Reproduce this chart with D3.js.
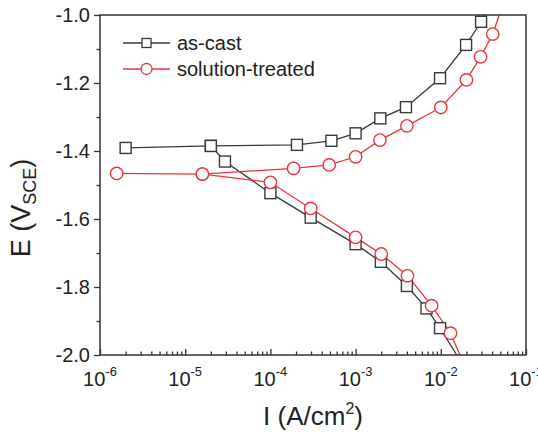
<!DOCTYPE html>
<html><head><meta charset="utf-8">
<script src="https://cdn.jsdelivr.net/npm/d3@7/dist/d3.min.js"></script>
<style>body{margin:0;background:#fff}svg{display:block}text{font-family:"Liberation Sans",Arial,sans-serif;fill:#222}</style>
</head><body><svg id="c" width="538" height="438"></svg>
<script>
// ---- data ----
const xTickExps = [-6, -5, -4, -3, -2, -1];
const yTicks = [-2.0, -1.8, -1.6, -1.4, -1.2, -1.0];
const seriesNames = ["as-cast", "solution-treated"];

const asCastAnodicI = [2.0e-6, 2.0e-5, 2.05e-4, 5.2e-4, 1.0e-3, 1.95e-3, 3.9e-3, 9.8e-3, 1.98e-2, 2.97e-2];
const asCastAnodicE = [-1.391, -1.385, -1.382, -1.370, -1.348, -1.304, -1.271, -1.186, -1.088, -1.020];
const asCastAnodicTail = [3.2e-2, -1.0];
const asCastCathodicI = [2.0e-5, 2.93e-5, 1.0e-4, 2.97e-4, 1.0e-3, 1.98e-3, 4.0e-3, 6.8e-3, 9.8e-3];
const asCastCathodicE = [-1.385, -1.431, -1.524, -1.596, -1.674, -1.726, -1.797, -1.863, -1.921];
const asCastCathodicTail = [1.54e-2, -2.0];

const solAnodicI = [1.57e-6, 1.59e-5, 1.87e-4, 4.9e-4, 1.0e-3, 1.93e-3, 4.0e-3, 1.0e-2, 2.0e-2, 2.93e-2, 4.07e-2];
const solAnodicE = [-1.466, -1.468, -1.451, -1.441, -1.417, -1.368, -1.326, -1.272, -1.191, -1.123, -1.056];
const solAnodicTail = [4.86e-2, -1.0];
const solCathodicI = [1.59e-5, 1.0e-4, 2.97e-4, 1.0e-3, 2.0e-3, 4.06e-3, 7.8e-3, 1.30e-2];
const solCathodicE = [-1.468, -1.492, -1.569, -1.654, -1.703, -1.767, -1.855, -1.936];
const solCathodicTail = [1.68e-2, -2.0];

// ---- layout ----
const L = 100, R = 526, T = 15, B = 355;
const colBlack = "#3a3a3a", colRed = "#e8353b";
const svg = d3.select("#c");
const x = d3.scaleLog().domain([1e-6, 1e-1]).range([L, R]);
const y = d3.scaleLinear().domain([-2.0, -1.0]).range([B, T]);

svg.append("clipPath").attr("id", "clip").append("rect")
  .attr("x", L).attr("y", T).attr("width", R - L).attr("height", B - T);

const zip = (I, E, tail) => { const a = I.map((v, i) => [v, E[i]]); if (tail) a.push(tail); return a; };
const line = d3.line().x(d => x(d[0])).y(d => y(d[1]));

const series = [
  { color: colBlack, shape: "square", branches: [[asCastAnodicI, asCastAnodicE, asCastAnodicTail], [asCastCathodicI, asCastCathodicE, asCastCathodicTail]] },
  { color: colRed, shape: "circle", branches: [[solAnodicI, solAnodicE, solAnodicTail], [solCathodicI, solCathodicE, solCathodicTail]] }
];

const plot = svg.append("g").attr("clip-path", "url(#clip)");
series.forEach(s => {
  s.branches.forEach(b => {
    plot.append("path").datum(zip(b[0], b[1], b[2]))
      .attr("d", line).attr("fill", "none").attr("stroke", s.color).attr("stroke-width", 1.3);
  });
});
series.forEach(s => {
  s.branches.forEach(b => {
    const pts = zip(b[0], b[1]);
    if (s.shape === "square") {
      plot.selectAll(null).data(pts).enter().append("rect")
        .attr("x", d => x(d[0]) - 5.5).attr("y", d => y(d[1]) - 5.5)
        .attr("width", 11).attr("height", 11)
        .attr("fill", "#fff").attr("stroke", s.color).attr("stroke-width", 1.4);
    } else {
      plot.selectAll(null).data(pts).enter().append("circle")
        .attr("cx", d => x(d[0])).attr("cy", d => y(d[1])).attr("r", 6.2)
        .attr("fill", "#fff").attr("stroke", s.color).attr("stroke-width", 1.4);
    }
  });
});

// ---- axes ----
const axisColor = "#333";
const yMinor = d3.range(-1.9, -1.0, 0.2).map(v => +v.toFixed(1));
const ya = svg.append("g").attr("transform", `translate(${L},0)`)
  .call(d3.axisLeft(y).tickValues(yTicks).tickSize(6).tickPadding(4).tickFormat(d => d.toFixed(1)));
svg.append("g").attr("transform", `translate(${L},0)`)
  .call(d3.axisLeft(y).tickValues(yMinor).tickSize(3.5).tickFormat(""));
const xMajor = xTickExps.map(e => Math.pow(10, e));
const xMinor = [];
xTickExps.slice(0, -1).forEach(e => { for (let k = 2; k <= 9; k++) xMinor.push(k * Math.pow(10, e)); });
svg.append("g").attr("transform", `translate(0,${B})`)
  .call(d3.axisBottom(x).tickValues(xMajor).tickSizeInner(-6).tickSizeOuter(0).tickFormat(""));
svg.append("g").attr("transform", `translate(0,${B})`)
  .call(d3.axisBottom(x).tickValues(xMinor).tickSizeInner(-3.5).tickSizeOuter(0).tickFormat(""));
svg.selectAll(".domain").remove();
svg.selectAll(".tick line").attr("stroke", axisColor).attr("stroke-width", 1.3);
ya.selectAll(".tick text").attr("font-size", 20).attr("fill", "#222")
  .attr("font-family", '"Liberation Sans",Arial,sans-serif');

// frame
svg.append("rect").attr("x", L).attr("y", T).attr("width", R - L).attr("height", B - T)
  .attr("fill", "none").attr("stroke", axisColor).attr("stroke-width", 1.5);

// x tick labels with superscripts
xTickExps.forEach(e => {
  const t = svg.append("text").attr("x", x(Math.pow(10, e))).attr("y", B + 31)
    .attr("text-anchor", "middle").attr("font-size", 20);
  t.append("tspan").text("10");
  t.append("tspan").attr("dy", -10).attr("font-size", 13).text(String(e));
});

// axis titles
svg.append("text").attr("x", (L + R) / 2).attr("y", 425).attr("text-anchor", "middle")
  .attr("font-size", 26)
  .call(t => {
    t.append("tspan").text("I (A/cm");
    t.append("tspan").attr("dy", -11).attr("font-size", 16).text("2");
    t.append("tspan").attr("dy", 11).text(")");
  });
svg.append("text").attr("transform", `translate(30,208) rotate(-90)`)
  .attr("text-anchor", "middle").attr("font-size", 27)
  .call(t => {
    t.append("tspan").text("E (V");
    t.append("tspan").attr("dy", 6).attr("font-size", 18).text("SCE");
    t.append("tspan").attr("dy", -6).text(")");
  });

// legend
const leg = svg.append("g");
series.forEach((s, i) => {
  const ly = 43 + i * 26;
  leg.append("line").attr("x1", 123).attr("x2", 170).attr("y1", ly).attr("y2", ly)
    .attr("stroke", s.color).attr("stroke-width", 1.3);
  if (s.shape === "square") {
    leg.append("rect").attr("x", 146.5 - 4.5).attr("y", ly - 4.5).attr("width", 9).attr("height", 9)
      .attr("fill", "#fff").attr("stroke", s.color).attr("stroke-width", 1.3);
  } else {
    leg.append("circle").attr("cx", 146.5).attr("cy", ly).attr("r", 5.5)
      .attr("fill", "#fff").attr("stroke", s.color).attr("stroke-width", 1.3);
  }
  leg.append("text").attr("x", 177).attr("y", ly + 7).attr("font-size", 20).text(seriesNames[i]);
});
</script></body></html>
